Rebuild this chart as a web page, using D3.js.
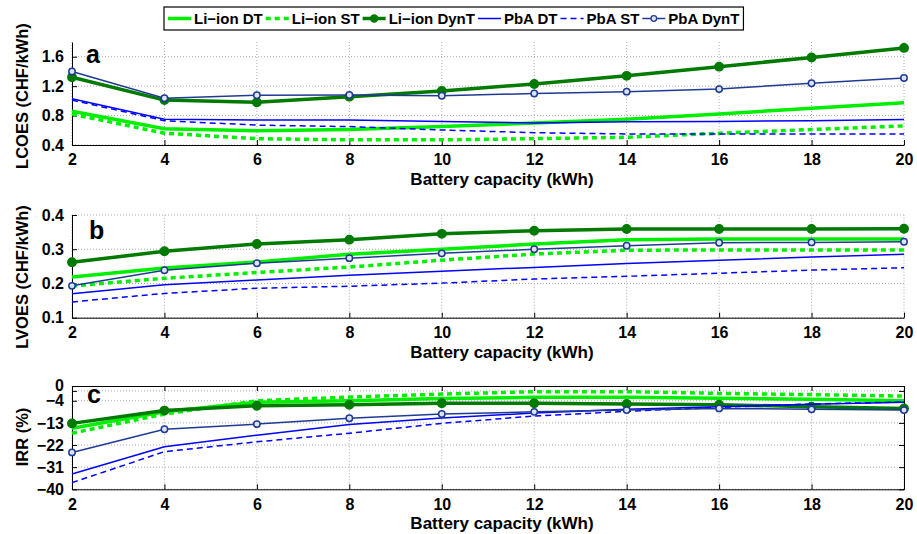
<!DOCTYPE html>
<html>
<head>
<meta charset="utf-8">
<script src="https://cdn.jsdelivr.net/npm/d3@7"></script>
<style>
    body { margin: 0; background: #fff; }
    text { font-family: "Liberation Sans", Arial, sans-serif; font-weight: bold; }
</style>
</head>
<body>
<div id="canvas"></div>
<script>
// battery capacity (kWh)
let capacity = [2, 4, 6, 8, 10, 12, 14, 16, 18, 20]
let seriesNames = ['Li\u2212ion DT', 'Li\u2212ion ST', 'Li\u2212ion DynT', 'PbA DT', 'PbA ST', 'PbA DynT']

// LCOES (CHF/kWh)
let lcoesLiDT = [0.86, 0.62, 0.595, 0.61, 0.65, 0.70, 0.75, 0.82, 0.90, 0.975]
let lcoesLiST = [0.82, 0.56, 0.486, 0.47, 0.47, 0.486, 0.505, 0.56, 0.61, 0.66]
let lcoesLiDyn = [1.32, 1.01, 0.98, 1.057, 1.135, 1.23, 1.34, 1.465, 1.59, 1.72]
let lcoesPbDT = [1.03, 0.75, 0.74, 0.74, 0.72, 0.70, 0.717, 0.72, 0.73, 0.745]
let lcoesPbST = [1.01, 0.73, 0.67, 0.65, 0.604, 0.567, 0.55, 0.55, 0.55, 0.55]
let lcoesPbDyn = [1.40, 1.035, 1.076, 1.08, 1.07, 1.10, 1.125, 1.16, 1.24, 1.31]

// LVOES (CHF/kWh)
let lvoesLiDT = [0.219, 0.245, 0.263, 0.285, 0.300, 0.315, 0.328, 0.33, 0.33, 0.33]
let lvoesLiST = [0.193, 0.215, 0.232, 0.248, 0.268, 0.286, 0.297, 0.298, 0.298, 0.298]
let lvoesLiDyn = [0.262, 0.294, 0.3155, 0.328, 0.345, 0.354, 0.359, 0.359, 0.359, 0.36]
let lvoesPbDT = [0.17, 0.196, 0.21, 0.224, 0.236, 0.247, 0.258, 0.268, 0.277, 0.285]
let lvoesPbST = [0.146, 0.171, 0.186, 0.192, 0.201, 0.213, 0.221, 0.23, 0.239, 0.246]
let lvoesPbDyn = [0.193, 0.2385, 0.259, 0.274, 0.288, 0.300, 0.31, 0.319, 0.32, 0.322]

// IRR (%)
let irrLiDT = [-15.2, -8.5, -4.6, -4.0, -3.1, -2.6, -2.6, -3.0, -3.4, -4.0]
let irrLiST = [-17.2, -9.4, -4.0, -2.5, -1.3, -0.3, -0.3, -1.0, -1.5, -2.1]
let irrLiDyn = [-13.2, -8.0, -6.0, -5.6, -5.0, -5.0, -5.3, -5.6, -6.4, -7.1]
let irrPbDT = [-33.8, -22.7, -18.0, -13.7, -11.0, -9.0, -7.5, -6.4, -5.4, -4.6]
let irrPbST = [-37.3, -24.7, -20.7, -17.2, -13.2, -10.2, -8.3, -6.7, -5.3, -4.5]
let irrPbDyn = [-25.0, -15.6, -13.5, -11.1, -9.4, -8.5, -7.8, -7.1, -7.5, -7.8]

let lcoesTicks = [0.4, 0.8, 1.2, 1.6]
let lvoesTicks = [0.1, 0.2, 0.3, 0.4]
let irrTicks = [-40, -31, -22, -13, -4, 0]

let width = 917
let height = 534
let left = 72
let right = 904

// line styles, in legend order
let styles = [
    { color: '#00ee00', width: 3.5, dash: null, marker: null },
    { color: '#00ee00', width: 3.5, dash: '5,4', marker: null },
    { color: '#007a00', width: 3.5, dash: null, marker: 'filled' },
    { color: '#0000ff', width: 1.5, dash: null, marker: null },
    { color: '#0000ff', width: 1.5, dash: '6,4', marker: null },
    { color: '#1f3a93', width: 1.5, dash: null, marker: 'open' }
]

let svg = d3.select('#canvas').append('svg')
    .attr('width', width)
    .attr('height', height)

let x = d3.scaleLinear().domain([2, 20]).range([left, right])

function drawPanel(p) {
    let y = d3.scaleLinear().domain(p.domain).range([p.bottom, p.top])
    let g = svg.append('g')

    // dotted grid
    g.append('g').selectAll('line').data(capacity).enter().append('line')
        .attr('x1', (d) => x(d)).attr('x2', (d) => x(d))
        .attr('y1', p.bottom).attr('y2', p.top)
        .attr('stroke', '#aaa').attr('stroke-dasharray', '1,2')
    g.append('g').selectAll('line').data(p.ticks).enter().append('line')
        .attr('x1', left).attr('x2', right)
        .attr('y1', (d) => y(d)).attr('y2', (d) => y(d))
        .attr('stroke', '#aaa').attr('stroke-dasharray', '1,2')

    // axes, ticks inside
    g.append('g').attr('transform', 'translate(0,' + p.bottom + ')')
        .call(d3.axisBottom(x).tickValues(capacity).tickSize(-5).tickSizeOuter(0).tickPadding(9))
    let ay = g.append('g').attr('transform', 'translate(' + left + ',0)')
        .call(d3.axisLeft(y).tickValues(p.ticks).tickFormat(d3.format(p.fmt))
            .tickSize(-5).tickSizeOuter(0).tickPadding(8))
    // the top label sits a bit higher, as in the original
    ay.selectAll('.tick text').filter((d) => d === p.raiseTick).attr('y', -6)
    if (p.box) {
        g.append('g').attr('transform', 'translate(0,' + p.top + ')')
            .call(d3.axisTop(x).tickValues(capacity).tickSize(-5).tickSizeOuter(0).tickFormat(''))
        g.append('g').attr('transform', 'translate(' + right + ',0)')
            .call(d3.axisRight(y).tickValues(p.ticks).tickSize(-5).tickSizeOuter(0).tickFormat(''))
    }
    g.selectAll('.tick text').attr('font-size', 16).attr('fill', '#000')
        .style('font-family', '"Liberation Sans", Arial, sans-serif').style('font-weight', 'bold')
    g.selectAll('.domain, .tick line').attr('stroke', '#000')

    // series
    let line = d3.line().x((d, i) => x(capacity[i])).y((d) => y(d))
    p.series.forEach(function (vals, k) {
        let s = styles[k]
        g.append('path')
            .attr('d', line(vals))
            .attr('fill', 'none')
            .attr('stroke', s.color)
            .attr('stroke-width', s.width)
            .attr('stroke-dasharray', s.dash)
        if (s.marker) {
            g.append('g').selectAll('circle').data(vals).enter().append('circle')
                .attr('cx', (d, i) => x(capacity[i]))
                .attr('cy', (d) => y(d))
                .attr('r', s.marker === 'filled' ? 4.2 : 3.2)
                .attr('fill', s.marker === 'filled' ? s.color : '#dfe4f5')
                .attr('stroke', s.color)
                .attr('stroke-width', 1.5)
        }
    })

    // labels
    g.append('text').attr('x', p.letterX).attr('y', p.top + p.letterDy)
        .attr('font-size', 25).text(p.letter)
    g.append('text')
        .attr('transform', 'translate(28,' + p.titleY + ') rotate(-90)')
        .attr('text-anchor', 'middle').attr('font-size', 16.5).text(p.title)
    g.append('text').attr('x', 502).attr('y', p.bottom + 40)
        .attr('text-anchor', 'middle').attr('font-size', 17).text('Battery capacity (kWh)')
}

drawPanel({
    top: 42, bottom: 145, domain: [0.4, 1.8], ticks: lcoesTicks, fmt: '.1f', box: false,
    series: [lcoesLiDT, lcoesLiST, lcoesLiDyn, lcoesPbDT, lcoesPbST, lcoesPbDyn],
    letter: 'a', letterX: 86, letterDy: 21, title: 'LCOES (CHF/kWh)', titleY: 96
})
drawPanel({
    top: 215, bottom: 317.7, domain: [0.1, 0.4], ticks: lvoesTicks, fmt: '.1f', box: false,
    series: [lvoesLiDT, lvoesLiST, lvoesLiDyn, lvoesPbDT, lvoesPbST, lvoesPbDyn],
    letter: 'b', letterX: 89, letterDy: 24, title: 'LVOES (CHF/kWh)', titleY: 277
})
drawPanel({
    top: 386, bottom: 489.3, domain: [-40, 2], ticks: irrTicks, fmt: 'd', box: true, raiseTick: 0,
    series: [irrLiDT, irrLiST, irrLiDyn, irrPbDT, irrPbST, irrPbDyn],
    letter: 'c', letterX: 87, letterDy: 17, title: 'IRR (%)', titleY: 437
})

// legend
let leg = svg.append('g')
let box = leg.append('rect')
    .attr('x', 164).attr('y', 7).attr('height', 23)
    .attr('fill', '#fff').attr('stroke', '#000').attr('stroke-width', 1.2)
let lx = 168
seriesNames.forEach(function (name, k) {
    let s = styles[k]
    leg.append('line')
        .attr('x1', lx).attr('x2', lx + 23).attr('y1', 18.5).attr('y2', 18.5)
        .attr('stroke', s.color).attr('stroke-width', s.width)
        .attr('stroke-dasharray', s.dash)
    if (s.marker) {
        leg.append('circle').attr('cx', lx + 11.5).attr('cy', 18.5)
            .attr('r', s.marker === 'filled' ? 3.5 : 2.8)
            .attr('fill', s.marker === 'filled' ? s.color : '#dfe4f5')
            .attr('stroke', s.color).attr('stroke-width', 1.3)
    }
    let t = leg.append('text').attr('x', lx + 26).attr('y', 23.5)
        .attr('font-size', 15).text(name)
    lx = lx + 26 + t.node().getComputedTextLength() + 3
})
box.attr('width', lx + 1 - 164)
</script>
</body>
</html>
